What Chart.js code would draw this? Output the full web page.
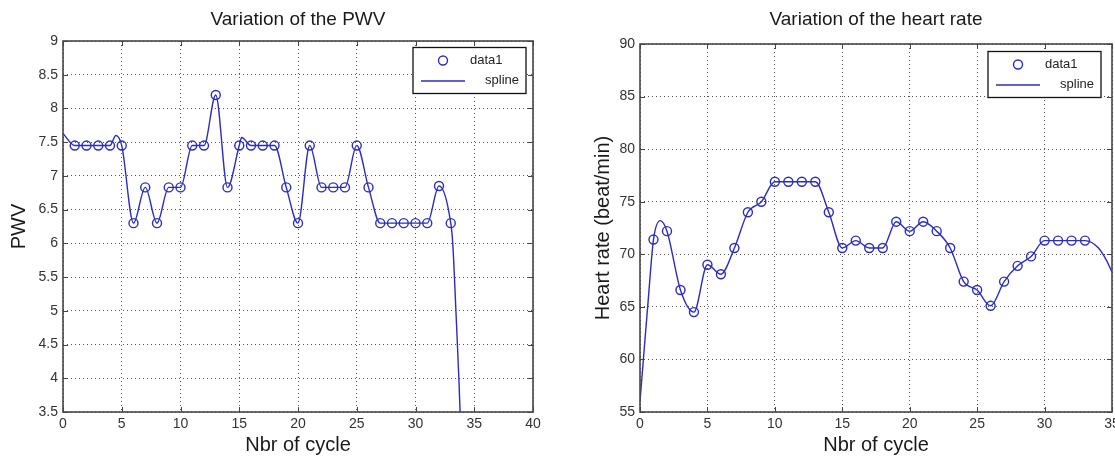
<!DOCTYPE html>
<html><head><meta charset="utf-8">
<script src="https://cdn.jsdelivr.net/npm/chart.js@4.4.0/dist/chart.umd.min.js"></script>
<style>
html,body{margin:0;padding:0;background:#fff;overflow:hidden;width:1115px;height:459px;position:relative;}
#c1{position:absolute;left:0;top:0;}
#c2{position:absolute;left:560px;top:0;}
</style></head><body>
<canvas id="c1" width="560" height="459"></canvas>
<canvas id="c2" width="570" height="459"></canvas>
<script>
// ---------- DATA ----------
const cycles = [1,2,3,4,5,6,7,8,9,10,11,12,13,14,15,16,17,18,19,20,21,22,23,24,25,26,27,28,29,30,31,32,33];
const pwvValues = [7.45,7.45,7.45,7.45,7.45,6.3,6.83,6.3,6.83,6.83,7.45,7.45,8.2,6.83,7.45,7.45,7.45,7.45,6.83,6.3,7.45,6.83,6.83,6.83,7.45,6.83,6.3,6.3,6.3,6.3,6.3,6.85,6.3];
// extra spline points (ends / overshoots)
const pwvSplineExtraX = [0, 4.5, 15.2, 33.17, 33.44, 33.69, 33.9];
const pwvSplineExtraY = [7.63, 7.6, 7.57, 6.0, 5.0, 4.0, 3.0];

const hrValues = [71.4,72.2,66.6,64.5,69.0,68.1,70.6,74.0,75.0,76.9,76.9,76.9,76.9,74.0,70.6,71.3,70.6,70.6,73.1,72.2,73.1,72.2,70.6,67.4,66.6,65.1,67.4,68.9,69.8,71.3,71.3,71.3,71.3];
const hrSplineExtraX = [0, 0.25, 0.6, 1.5, 34, 34.6, 35];
const hrSplineExtraY = [56, 60, 65.5, 73.2, 70.6, 69.4, 68.3];

const pwvXTicks = {min:0, max:40, step:5};
const pwvYTicks = {min:3.5, max:9, step:0.5};
const hrXTicks = {min:0, max:35, step:5};
const hrYTicks = {min:55, max:90, step:5};

const legendLabels = ['data1','spline'];

// ---------- helpers ----------
const BLUE = '#2c2cc0';
const FONT = '"Liberation Sans", Arial, Helvetica, sans-serif';

function pts(xs, ys){ return xs.map((x,i)=>({x:x, y:ys[i]})); }
function splinePts(xs, ys, ex, ey){
  return pts(xs,ys).concat(pts(ex,ey)).sort((a,b)=>a.x-b.x);
}

const framePlugin = {
  id:'frame',
  afterDraw(chart){
    const o = chart.options.plugins.frame;
    const ctx = chart.ctx, a = chart.chartArea, xs = chart.scales.x, ys = chart.scales.y;
    ctx.save();
    // inner ticks
    ctx.strokeStyle = '#444'; ctx.lineWidth = 1;
    ctx.beginPath();
    xs.ticks.forEach(t=>{ const p = Math.round(xs.getPixelForValue(t.value))+0.5;
      ctx.moveTo(p,a.bottom); ctx.lineTo(p,a.bottom-5); ctx.moveTo(p,a.top); ctx.lineTo(p,a.top+5); });
    ys.ticks.forEach(t=>{ const p = Math.round(ys.getPixelForValue(t.value))+0.5;
      ctx.moveTo(a.left,p); ctx.lineTo(a.left+5,p); ctx.moveTo(a.right,p); ctx.lineTo(a.right-5,p); });
    ctx.stroke();
    // frame
    ctx.lineWidth = 1.6; ctx.strokeStyle = '#454545';
    ctx.strokeRect(a.left, a.top, a.right-a.left, a.bottom-a.top);
    // titles
    ctx.fillStyle = '#1a1a1a';
    ctx.textAlign = 'center'; ctx.textBaseline = 'middle';
    ctx.font = '19px ' + FONT;
    ctx.fillText(o.title, (a.left+a.right)/2, 20);
    ctx.font = '20px ' + FONT;
    ctx.fillText(o.xTitle, (a.left+a.right)/2, 445);
    ctx.save();
    ctx.translate(o.yTitleX, (a.top+a.bottom)/2);
    ctx.rotate(-Math.PI/2);
    ctx.fillText(o.yTitle, 0, 0);
    ctx.restore();
    // legend
    const bw = 113, bh = 46;
    const bx = a.right - o.legRight - bw, by = a.top + o.legTop;
    ctx.fillStyle = '#fff';
    ctx.fillRect(bx, by, bw, bh);
    ctx.lineWidth = 1.3; ctx.strokeStyle = '#111';
    ctx.strokeRect(bx, by, bw, bh);
    ctx.strokeStyle = BLUE; ctx.lineWidth = 1.4;
    ctx.beginPath(); ctx.arc(bx+30, by+13, 4.5, 0, Math.PI*2); ctx.stroke();
    ctx.beginPath(); ctx.moveTo(bx+8, by+33.5); ctx.lineTo(bx+52, by+33.5); ctx.stroke();
    ctx.fillStyle = '#222'; ctx.font = '13px ' + FONT; ctx.textBaseline='middle';
    ctx.textAlign = 'left';
    ctx.fillText(legendLabels[0], bx+57, by+13);
    ctx.textAlign = 'right';
    ctx.fillText(legendLabels[1], bx+106, by+33);
    ctx.restore();
  }
};

function makeChart(id, cfg){
  const tickFont = {family: FONT, size: 14};
  return new Chart(document.getElementById(id), {
    type: 'scatter',
    data: { datasets: [
      { type:'scatter', label: legendLabels[0], data: pts(cycles, cfg.values),
        showLine:false, pointStyle:'circle', pointRadius:4.5, pointHoverRadius:4.5,
        pointBorderColor: BLUE, pointBackgroundColor:'rgba(0,0,0,0)', pointBorderWidth:1.4, order:0 },
      { type:'line', label: legendLabels[1], data: splinePts(cycles, cfg.values, cfg.ex, cfg.ey),
        borderColor: BLUE, borderWidth:1.4, pointRadius:0, fill:false,
        cubicInterpolationMode:'monotone', order:1 }
    ]},
    options: {
      responsive:false, animation:false, devicePixelRatio:1,
      layout:{padding:{left:0, top:cfg.top, right:cfg.right, bottom:0}},
      plugins:{ legend:{display:false}, tooltip:{enabled:false}, title:{display:false},
        frame:{title:cfg.title, xTitle:'Nbr of cycle', yTitle:cfg.yTitle, yTitleX:cfg.yTitleX,
               legRight:cfg.legRight, legTop:cfg.legTop} },
      scales:{
        x:{ type:'linear', position:'bottom', min:cfg.xt.min, max:cfg.xt.max,
            ticks:{stepSize:cfg.xt.step, padding:4, font:tickFont, color:'#333', maxRotation:0,
                   callback:v=>String(v)},
            grid:{color:'#555', lineWidth:1, drawTicks:false},
            border:{display:false, dash:[1,3]},
            afterFit:s=>{ s.height = 47; } },
        y:{ type:'linear', position:'left', min:cfg.yt.min, max:cfg.yt.max,
            ticks:{stepSize:cfg.yt.step, padding:5, font:tickFont, color:'#333',
                   callback:v=>String(v)},
            grid:{color:'#555', lineWidth:1, drawTicks:false},
            border:{display:false, dash:[1,3]},
            afterFit:s=>{ s.width = cfg.yw; } }
      }
    },
    plugins:[framePlugin]
  });
}

makeChart('c1', {values: pwvValues, ex: pwvSplineExtraX, ey: pwvSplineExtraY,
  xt: pwvXTicks, yt: pwvYTicks, top:41, right:27, yw:63,
  title:'Variation of the PWV', yTitle:'PWV', yTitleX:19, legRight:7, legTop:6.5});
makeChart('c2', {values: hrValues, ex: hrSplineExtraX, ey: hrSplineExtraY,
  xt: hrXTicks, yt: hrYTicks, top:44, right:18, yw:80,
  title:'Variation of the heart rate', yTitle:'Heart rate (beat/min)', yTitleX:43, legRight:11, legTop:7.5});
</script>
</body></html>
